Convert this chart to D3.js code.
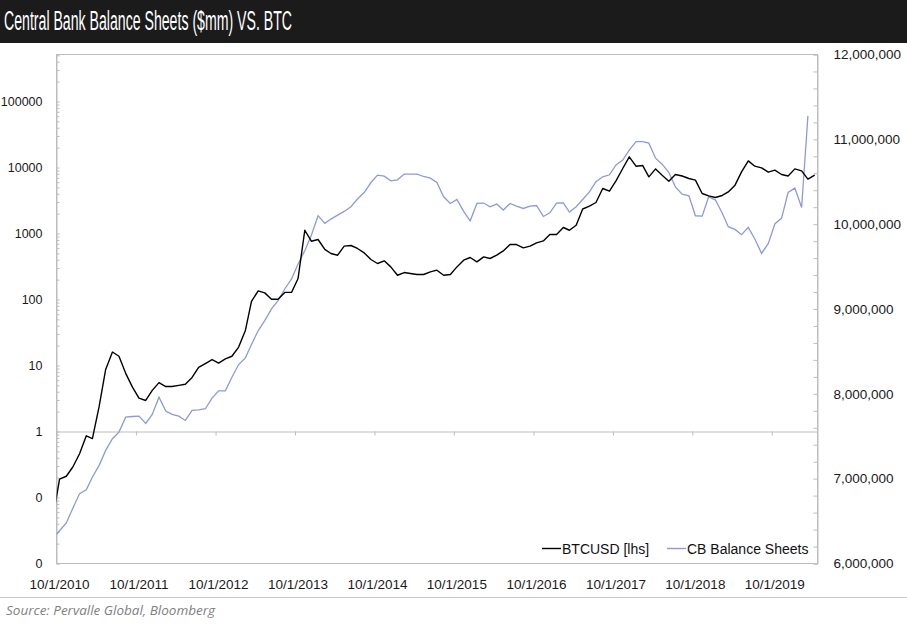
<!DOCTYPE html>
<html>
<head>
<meta charset="utf-8">
<script src="https://cdn.jsdelivr.net/npm/d3@7"></script>
<style>
  body { margin: 0; background: #fff; }
  svg { display: block; font-family: "Liberation Sans", Arial, sans-serif; }
</style>
</head>
<body>
<div id="chart"></div>
<script>
// --- data (monthly, mid-month, Sep 2010 .. Apr 2020) ---

// BTCUSD, left log axis
const btcUsd = [
  0.05, 0.19, 0.21, 0.29, 0.46, 0.86, 0.78, 2.4, 8.7, 16, 13.8, 7.6,
  4.7, 3.2, 2.95, 4.2, 5.5, 4.8, 4.8, 5.0, 5.2, 6.6, 9.4, 10.7,
  12.3, 10.9, 12.6, 13.8, 19, 34, 94, 135, 126, 101, 101, 128,
  128, 208, 1120, 764, 811, 575, 498, 469, 643, 658, 593, 508,
  404, 351, 385, 312, 233, 256, 248, 239, 239, 262, 278, 233,
  239, 312, 394, 433, 371, 442, 418, 469, 545, 681, 681, 605,
  643, 721, 773, 966, 966, 1233, 1120, 1336, 2350, 2594, 2950, 4808,
  4375, 6268, 9660, 14500, 10470, 10700, 7210, 9530, 7640, 6200, 7830, 7430,
  6810, 6430, 4040, 3715, 3510, 3770, 4265, 5400, 8570, 12590, 10470, 9860,
  8490, 9100, 7830, 7430, 9530, 8870, 6660, 7640
];

// Central bank balance sheets ($mm), right axis; no value yet for Apr 2020
const cbBalanceSheets = [
  6297000, 6386000, 6478000, 6651000, 6824000, 6870000, 7020000, 7157000, 7333000, 7471000, 7549000, 7725000,
  7733000, 7737000, 7651000, 7757000, 7961000, 7796000, 7757000, 7737000, 7686000, 7804000, 7812000, 7824000,
  7949000, 8036000, 8036000, 8196000, 8345000, 8424000, 8581000, 8746000, 8863000, 9001000, 9099000, 9236000,
  9354000, 9531000, 9687000, 9870000, 10100000, 10009000, 10060000, 10107000, 10150000, 10205000, 10296000, 10373000,
  10491000, 10578000, 10566000, 10511000, 10523000, 10590000, 10590000, 10590000, 10562000, 10543000, 10491000, 10323000,
  10244000, 10291000, 10150000, 10040000, 10244000, 10249000, 10205000, 10237000, 10166000, 10244000, 10213000, 10185000,
  10213000, 10220000, 10091000, 10134000, 10249000, 10252000, 10142000, 10205000, 10291000, 10380000, 10500000, 10558000,
  10582000, 10699000, 10755000, 10872000, 10974000, 10974000, 10955000, 10778000, 10707000, 10609000, 10440000, 10354000,
  10334000, 10099000, 10095000, 10323000, 10284000, 10131000, 9970000, 9938000, 9876000, 9962000, 9825000, 9656000,
  9773000, 10002000, 10072000, 10373000, 10425000, 10197000, 11276000, null
];

const xTickLabels = ["10/1/2010", "10/1/2011", "10/1/2012", "10/1/2013", "10/1/2014",
                     "10/1/2015", "10/1/2016", "10/1/2017", "10/1/2018", "10/1/2019"];
const leftTickValues = [0.01, 0.1, 1, 10, 100, 1000, 10000, 100000];
const leftTickLabels = ["0", "0", "1", "10", "100", "1000", "10000", "100000"];
const rightTickValues = [6000000, 7000000, 8000000, 9000000, 10000000, 11000000, 12000000];
const seriesNames = ["BTCUSD [lhs]", "CB Balance Sheets"];

const titleText = "Central Bank Balance Sheets ($mm) VS. BTC";
const sourceText = "Source: Pervalle Global, Bloomberg";

// --- layout ---
const width = 907, height = 631;
const plot = { left: 56.5, right: 817.5, top: 54.5, bottom: 563.5 };
const gridColor = "#bdbdbd";
const blue = "#8c9bd8";

const svg = d3.select("#chart").append("svg")
  .attr("width", width)
  .attr("height", height);

// title bar
svg.append("rect").attr("x", 0).attr("y", 0).attr("width", width).attr("height", 43).attr("fill", "#1b1b1b");
svg.append("text")
  .attr("x", 4).attr("y", 30)
  .attr("fill", "#fff")
  .attr("font-family", "'Liberation Sans Narrow', 'Liberation Sans', Arial, sans-serif")
  .attr("font-size", 27)
  .attr("textLength", 288).attr("lengthAdjust", "spacingAndGlyphs")
  .text(titleText);

// scales
const parseDate = d3.timeParse("%m/%d/%Y");
const firstMonth = new Date(2010, 8, 15);
const months = btcUsd.map((d, i) => d3.timeMonth.offset(firstMonth, i));
const xTickDates = xTickLabels.map(parseDate);

const x = d3.scaleTime()
  .domain([new Date(2010, 9, 1), new Date(2020, 3, 28)])
  .range([plot.left, plot.right]);

const decadePx = 66;
const yLeft = d3.scaleLog()
  .domain([0.01, Math.pow(10, -2 + (plot.bottom - plot.top) / decadePx)])
  .range([plot.bottom, plot.top]);

const yRight = d3.scaleLinear()
  .domain([6000000, 12000000])
  .range([plot.bottom, plot.top]);

// plot area border
svg.append("rect")
  .attr("x", plot.left).attr("y", plot.top)
  .attr("width", plot.right - plot.left).attr("height", plot.bottom - plot.top)
  .attr("fill", "none").attr("stroke", gridColor);

// left axis: minor + major ticks inside, labels outside
const leftMinor = [];
leftTickValues.forEach(d => {
  for (let m = 1; m <= 9; m++) {
    if (d * m <= yLeft.domain()[1]) leftMinor.push(d * m);
  }
});
const leftTicksG = svg.append("g").attr("transform", `translate(${plot.left},0)`)
  .call(d3.axisRight(yLeft).tickValues(leftMinor).tickSize(3).tickFormat(""));
const leftLabelsG = svg.append("g").attr("transform", `translate(${plot.left},0)`)
  .call(d3.axisLeft(yLeft).tickValues(leftTickValues).tickSize(0).tickPadding(14)
    .tickFormat((d, i) => leftTickLabels[i]));

// right axis
const rightMinor = d3.range(6000000, 12000001, 200000);
const rightTicksG = svg.append("g").attr("transform", `translate(${plot.right},0)`)
  .call(d3.axisLeft(yRight).tickValues(rightMinor).tickSize(4).tickFormat(""));
const rightLabelsG = svg.append("g").attr("transform", `translate(${plot.right},0)`)
  .call(d3.axisRight(yRight).tickValues(rightTickValues).tickSize(0).tickPadding(16)
    .tickFormat(d3.format(",")));

// x axis crosses the left axis at 1, labels sit below the plot
const xAxisG = svg.append("g").attr("transform", `translate(0,${yLeft(1)})`)
  .call(d3.axisBottom(x).tickValues(xTickDates).tickSize(4).tickSizeOuter(0).tickFormat(""));
xAxisG.select(".domain").attr("d", `M${plot.left},0.5H${plot.right}`);

svg.append("g").selectAll("text")
  .data(xTickDates)
  .enter().append("text")
  .attr("x", d => x(d) + 3)
  .attr("y", 589)
  .attr("text-anchor", "middle")
  .attr("font-size", 13.5)
  .attr("fill", "#1a1a1a")
  .text((d, i) => xTickLabels[i]);

[leftTicksG, leftLabelsG, rightTicksG, rightLabelsG, xAxisG].forEach(g => {
  g.selectAll(".domain").attr("stroke", gridColor);
  g.selectAll(".tick line").attr("stroke", gridColor);
  g.selectAll(".tick text").attr("font-size", 13.5).attr("fill", "#1a1a1a")
    .attr("font-family", "'Liberation Sans', Arial, sans-serif");
});
leftLabelsG.selectAll(".tick text").attr("font-size", 12.5);
leftLabelsG.select(".domain").remove();
rightLabelsG.select(".domain").remove();

// lines
svg.append("clipPath").attr("id", "plot-clip")
  .append("rect")
  .attr("x", plot.left).attr("y", plot.top)
  .attr("width", plot.right - plot.left).attr("height", plot.bottom - plot.top);

const linesG = svg.append("g").attr("clip-path", "url(#plot-clip)");

const cbLine = d3.line()
  .defined(d => d != null)
  .x((d, i) => x(months[i]))
  .y(d => yRight(d));
linesG.append("path")
  .datum(cbBalanceSheets)
  .attr("d", cbLine)
  .attr("fill", "none")
  .attr("stroke", blue)
  .attr("stroke-width", 1.3);

const btcLine = d3.line()
  .x((d, i) => x(months[i]))
  .y(d => yLeft(d));
linesG.append("path")
  .datum(btcUsd)
  .attr("d", btcLine)
  .attr("fill", "none")
  .attr("stroke", "#000")
  .attr("stroke-width", 1.4)
  .attr("stroke-linejoin", "round");

// legend
const legend = svg.append("g").attr("font-size", 14).attr("fill", "#111");
const legendItems = [
  { name: seriesNames[0], color: "#000", x: 542 },
  { name: seriesNames[1], color: blue, x: 667 }
];
legendItems.forEach(item => {
  legend.append("line")
    .attr("x1", item.x).attr("x2", item.x + 19)
    .attr("y1", 548.5).attr("y2", 548.5)
    .attr("stroke", item.color).attr("stroke-width", 1.4);
  legend.append("text")
    .attr("x", item.x + 20).attr("y", 553.5)
    .text(item.name);
});

// footer
svg.append("line")
  .attr("x1", 0).attr("x2", width)
  .attr("y1", 597.5).attr("y2", 597.5)
  .attr("stroke", "#c8c8c8");
svg.append("text")
  .attr("x", 6).attr("y", 615)
  .attr("font-family", "'Open Sans', sans-serif")
  .attr("font-style", "italic")
  .attr("font-size", 13.5)
  .attr("fill", "#7f7f7f")
  .text(sourceText);
</script>
</body>
</html>
